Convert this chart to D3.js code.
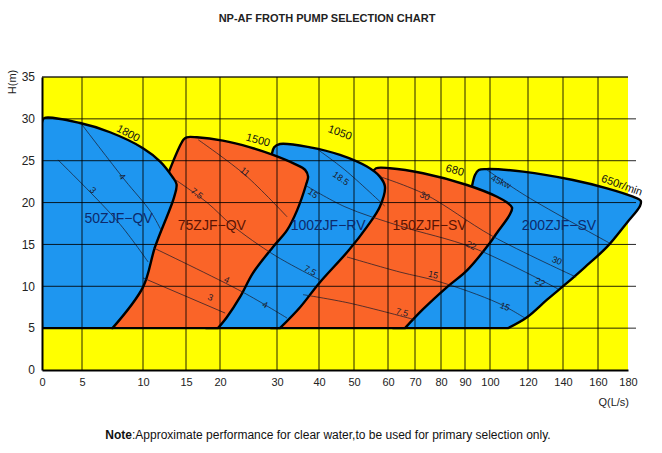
<!DOCTYPE html>
<html lang="en">
<head>
<meta charset="utf-8">
<script src="https://cdnjs.cloudflare.com/ajax/libs/d3/7.8.5/d3.min.js"></script>
<style>
  body { margin: 0; background: #fff; }
  svg { display: block; font-family: "Liberation Sans", Arial, sans-serif; }
  .tick text { font-size: 11px; fill: #222; }
</style>
</head>
<body>
<svg id="chart" width="662" height="453"></svg>
<script>
// ---- data (Q in L/s, H in m) ----
var qTicks = [0, 5, 10, 15, 20, 30, 40, 50, 60, 70, 80, 90, 100, 120, 140, 160, 180];
var hTicks = [0, 5, 10, 15, 20, 25, 30, 35];

var pumps = ["50ZJF-QV", "75ZJF-QV", "100ZJF-RV", "150ZJF-SV", "200ZJF-SV"];
var pumpKind = ["blue", "orange", "blue", "orange", "blue"];
var pumpLabelAt = [[8.0, 18.2], [18.8, 17.3], [42.6, 17.3], [75.6, 17.3], [137.7, 17.3]];

// outlines: bottom-left, up the left edge, over the top, down the right edge
var area50 = [[0, 5], [0, 29.6], [0.3, 30.1], [4.75, 29.5], [7.3, 28.4], [10, 26.5], [12, 24.9], [13.4, 23.1],
  [13.9, 22.2], [13.6, 20.6], [11.4, 14.7], [10, 9.9], [7.5, 5]];
var area75 = [[7.5, 5], [13.1, 23.9], [14.7, 27.5], [15.1, 27.8], [16.6, 27.8], [20.5, 27.4], [25.3, 26.6],
  [29.3, 25.7], [34.3, 24.6], [36.7, 23.9], [37.4, 23.1], [36.9, 22.1], [34.8, 19.1], [32.4, 16.7],
  [29.3, 14.7], [25.8, 11.6], [23.5, 8.7], [21.2, 6.3], [19.7, 5]];
var area100 = [[18, 5], [21, 9], [24, 14], [27.5, 21], [29, 25.5], [29.5, 26.6], [30.7, 27.0], [37.9, 26.6],
  [46, 25.7], [53.8, 24.3], [57.6, 23.1], [59.1, 21.9], [57.6, 19.5], [53.8, 17.1], [48.5, 14.3],
  [40.1, 10.4], [35.5, 7.5], [30.7, 5]];
var area150 = [[29, 5], [33, 7], [37, 10], [46, 15], [54, 22], [55.2, 23.5], [56.5, 24.1], [60.7, 24.1],
  [73.1, 23.5], [90.8, 22.1], [103.7, 20.7], [109, 20.0], [111.6, 19.4], [110.5, 18.6], [103.7, 16.4],
  [100, 15.2], [90.8, 11.9], [82.5, 9.9], [72.9, 7.2], [66.3, 5]];
var area200 = [[62, 5], [75, 10], [85, 15], [92, 21], [94, 23.3], [95.5, 23.9], [98.8, 24.0], [117.4, 23.7],
  [145.7, 22.7], [166, 21.7], [183.3, 20.7], [188.5, 20.2], [188, 19.6], [179.3, 17.6], [166, 14.7],
  [152.6, 12.3], [142.3, 10.4], [130.9, 8.4], [119.5, 6.3], [109.5, 5]];
var areas = [area50, area75, area100, area150, area200];

// speed of each pump (top curve)
var speeds = ["1800", "1500", "1050", "680", "650r/min"];
var speedAt = [[8.8, 28.3, 28], [26.7, 27.5, 15], [46, 28.4, 20], [85.8, 23.9, 15], [176, 22.1, 20]];

// shaft power lines (kW)
var powerLines = [
  [[2.0, 25.1], [7.95, 17.7], [10.6, 12.9]],
  [[5, 29.3], [8.5, 22.7], [10.9, 18.9], [12.1, 16.7]],
  [[13.8, 22.7], [18.1, 20.0], [22.1, 17.3], [29.6, 13.7], [40.1, 10.8]],
  [[16.8, 27.5], [24.4, 23.3], [32.4, 18.3]],
  [[11.2, 14.6], [24.0, 9.3], [32.4, 6.2]],
  [[10, 11.0], [20.9, 6.8]],
  [[37, 22.0], [47.4, 19.5], [64.4, 17.2], [93.2, 14.6], [137, 9.7]],
  [[39.8, 26.3], [47.4, 23.9], [59, 19.6]],
  [[57.6, 23.1], [73.8, 21.0], [101.2, 16.0], [147.5, 11.1]],
  [[48, 13.5], [64.4, 11.7], [78.8, 10.6], [104.2, 8.0], [118.4, 6.2]],
  [[36.2, 9.0], [48.6, 8.0], [70, 6.0]],
  [[98.8, 23.9], [118.9, 20.8], [167.3, 15.2]]
];
var powerText = ["3", "4", "7.5", "11", "4", "3", "15", "18.5", "7.5", "4", "30", "22", "15", "7.5", "45kw", "30", "22", "15"];
var powerTextAt = [[5.9, 21.5, 45], [8.3, 23.1, 52], [16.6, 21.1, 38], [24.4, 23.7, 38], [21.2, 10.8, 25],
  [18.6, 8.7, 22], [38.6, 21.1, 35], [46.3, 22.9, 35], [37.9, 11.9, 28], [27.9, 7.8, 25], [73.8, 20.8, 25],
  [92.5, 14.9, 28], [77, 11.4, 12], [65.2, 6.9, 15], [105.8, 22.5, 25], [136.6, 13.1, 22], [126.9, 10.5, 25],
  [107.9, 7.6, 22]];

// ---- chart ----
var fill = { blue: "#1e96f0", orange: "#fa6428" };
var ink = { blue: "#0d2a6b", orange: "#5a1404" };

var svg = d3.select("#chart");

// the Q axis of the original is hand spaced, so map each tick to its place
var x = d3.scaleLinear()
    .domain(qTicks)
    .range([42, 82, 143, 186, 220, 277, 319, 354, 388, 415, 441, 465, 490, 528, 563, 598, 628]);
var y = d3.scaleLinear().domain([0, 35]).range([370, 77]);

svg.append("text")
    .attr("x", 327).attr("y", 22)
    .attr("text-anchor", "middle")
    .style("font-size", "11px").style("font-weight", "bold").style("fill", "#222")
    .text("NP-AF FROTH PUMP SELECTION CHART");

svg.append("rect")
    .attr("x", x(0)).attr("y", y(35))
    .attr("width", x(180) - x(0)).attr("height", y(0) - y(35))
    .attr("fill", "#ffff00");

svg.append("clipPath").attr("id", "clip")
  .append("rect")
    .attr("x", x(0)).attr("y", y(35))
    .attr("width", 662 - x(0)).attr("height", y(0) - y(35));

var outline = d3.line()
    .x(function(d) { return x(d[0]); })
    .y(function(d) { return y(d[1]); })
    .curve(d3.curveCatmullRom.alpha(0.5));

var plot = svg.append("g").attr("clip-path", "url(#clip)");

// right-most first so each one sits over its right neighbour
var order = [4, 3, 2, 1, 0];
plot.selectAll(".pump")
    .data(order)
    .enter().append("path")
    .attr("class", "pump")
    .attr("d", function(i) { return outline(areas[i]) + "Z"; })
    .attr("fill", function(i) { return fill[pumpKind[i]]; })
    .attr("stroke", "#000")
    .attr("stroke-width", 2.4)
    .attr("stroke-linejoin", "round");

// grid on top
var grid = svg.append("g");
grid.selectAll(".vg")
    .data(qTicks.slice(1, -1))
    .enter().append("line")
    .attr("x1", function(d) { return x(d); }).attr("x2", function(d) { return x(d); })
    .attr("y1", y(35)).attr("y2", y(0))
    .attr("stroke", "#000").attr("stroke-opacity", 0.85).attr("stroke-width", 1);
grid.selectAll(".hg")
    .data(hTicks.slice(1))
    .enter().append("line")
    .attr("x1", x(0)).attr("x2", function(d) { return d === 35 ? x(180) : x(180) + 8; })
    .attr("y1", function(d) { return y(d); }).attr("y2", function(d) { return y(d); })
    .attr("stroke", "#000").attr("stroke-opacity", 0.85).attr("stroke-width", function(d) { return d === 35 ? 1.5 : 1; });

var thin = d3.line()
    .x(function(d) { return x(d[0]); })
    .y(function(d) { return y(d[1]); })
    .curve(d3.curveCatmullRom.alpha(0.5));

plot.selectAll(".power")
    .data(powerLines)
    .enter().append("path")
    .attr("d", thin)
    .attr("fill", "none")
    .attr("stroke", "#1a1a2a")
    .attr("stroke-opacity", 0.8)
    .attr("stroke-width", 0.9);

svg.selectAll(".ptext")
    .data(powerText)
    .enter().append("text")
    .attr("transform", function(d, i) {
      var p = powerTextAt[i];
      return "translate(" + x(p[0]) + "," + y(p[1]) + ") rotate(" + p[2] + ")";
    })
    .attr("text-anchor", "middle")
    .attr("dy", "0.35em")
    .style("font-size", "9px")
    .style("fill", "#1a1a2a")
    .text(function(d) { return d; });

svg.selectAll(".speed")
    .data(speeds)
    .enter().append("text")
    .attr("transform", function(d, i) {
      var p = speedAt[i];
      return "translate(" + x(p[0]) + "," + y(p[1]) + ") rotate(" + p[2] + ")";
    })
    .attr("text-anchor", "middle")
    .attr("dy", "0.35em")
    .style("font-size", "11px")
    .style("fill", "#111")
    .text(function(d) { return d; });

svg.selectAll(".pname")
    .data(pumps)
    .enter().append("text")
    .attr("x", function(d, i) { return x(pumpLabelAt[i][0]); })
    .attr("y", function(d, i) { return y(pumpLabelAt[i][1]); })
    .attr("dy", "0.35em")
    .attr("text-anchor", "middle")
    .style("font-size", "14px")
    .style("fill", function(d, i) { return ink[pumpKind[i]]; })
    .text(function(d) { return d.replace("-", "\u2212"); });

// axes
var xAxis = svg.append("g")
    .attr("transform", "translate(0," + y(0) + ")")
    .call(d3.axisBottom(x).tickValues(qTicks).tickSize(0).tickPadding(8));
xAxis.select(".domain").attr("stroke", "#000").attr("stroke-width", 2);

var yAxis = svg.append("g")
    .attr("transform", "translate(" + x(0) + ",0)")
    .call(d3.axisLeft(y).tickValues(hTicks).tickSize(0).tickPadding(7));
yAxis.select(".domain").attr("stroke", "#000").attr("stroke-width", 2);
yAxis.selectAll(".tick text").style("font-size", "12px");

svg.append("text")
    .attr("transform", "translate(16,82) rotate(-90)")
    .attr("text-anchor", "middle")
    .style("font-size", "11px").style("fill", "#222")
    .text("H(m)");

svg.append("text")
    .attr("x", 629).attr("y", 406)
    .attr("text-anchor", "end")
    .style("font-size", "11px").style("fill", "#222")
    .text("Q(L/s)");

var note = svg.append("text")
    .attr("x", 328).attr("y", 439)
    .attr("text-anchor", "middle")
    .style("font-size", "12px").style("fill", "#111");
note.append("tspan").style("font-weight", "bold").text("Note");
note.append("tspan").text(":Approximate performance for clear water,to be used for primary selection only.");
</script>
</body>
</html>
